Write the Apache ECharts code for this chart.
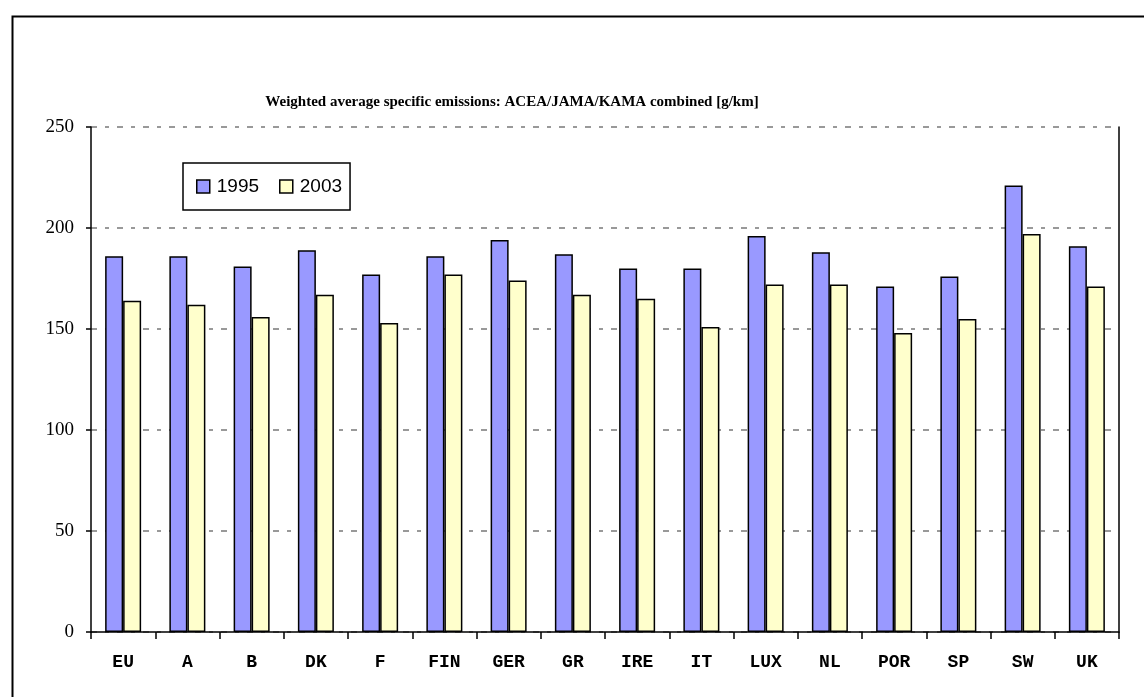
<!DOCTYPE html>
<html><head><meta charset="utf-8">
<script src="https://cdn.jsdelivr.net/npm/echarts@6/dist/echarts.min.js"></script>
<style>html,body{margin:0;padding:0;background:#fff}#c{width:1144px;height:697px}</style>
</head><body><div id="c"></div>
<script>
var categories = ['EU','A','B','DK','F','FIN','GER','GR','IRE','IT','LUX','NL','POR','SP','SW','UK'];
var values1995 = [186,186,181,189,177,186,194,187,180,180,196,188,171,176,221,191];
var values2003 = [164,162,156,167,153,177,174,167,165,151,172,172,148,155,197,171];
var yTicks = [0,50,100,150,200,250];

var chart = echarts.init(document.getElementById('c'));
chart.setOption({
  animation: false,
  backgroundColor: '#fff',
  title: {
    text: 'Weighted average specific emissions: ACEA/JAMA/KAMA combined [g/km]',
    left: 507, top: 90, textAlign: 'center',
    textStyle: {fontFamily: 'Liberation Serif', fontWeight: 'bold', fontSize: 15, color: '#000'}
  },
  legend: {
    left: 183, top: 163,
    padding: [14, 8, 14, 13],
    orient: 'horizontal',
    borderColor: '#000', borderWidth: 1.5,
    icon: 'rect',
    itemWidth: 13, itemHeight: 13, itemGap: 20,
    itemStyle: {borderColor: '#000', borderWidth: 1.5},
    textStyle: {fontFamily: 'Liberation Sans', fontSize: 19, color: '#000', padding: [0,0,0,2]},
    data: ['1995','2003']
  },
  grid: {left: 91, right: 25, top: 127, bottom: 65},
  xAxis: {
    type: 'category', data: categories,
    axisLine: {lineStyle: {color: '#000', width: 1.5}},
    axisTick: {show: true, length: 7, inside: false, lineStyle: {color: '#000', width: 1.5}},
    axisLabel: {fontFamily: 'Liberation Mono', fontWeight: 'bold', fontSize: 18, color: '#000', margin: 21}
  },
  yAxis: [{
    type: 'value', min: 0, max: 250, interval: 50,
    axisLine: {show: true, lineStyle: {color: '#000', width: 1.5}},
    axisTick: {show: true, length: 5, lineStyle: {color: '#000', width: 1.5}},
    axisLabel: {fontFamily: 'Liberation Serif', fontSize: 19, color: '#000', margin: 17,
      formatter: function(v){ return yTicks.indexOf(v) >= 0 ? String(v) : ''; }},
    splitLine: {show: true, lineStyle: {color: '#999', type: [6, 8, 4, 8], width: 2}}
  }, {
    type: 'value', min: 0, max: 250, interval: 50, position: 'right',
    axisLine: {show: true, lineStyle: {color: '#000', width: 1.5}},
    axisTick: {show: false}, axisLabel: {show: false}, splitLine: {show: false}
  }],
  series: [{
    name: '1995', type: 'bar', data: values1995, barWidth: 18, barGap: '0%',
    itemStyle: {color: '#9999FF', borderColor: '#000', borderWidth: 1.5}
  }, {
    name: '2003', type: 'bar', data: values2003, barWidth: 18, barGap: '0%',
    itemStyle: {color: '#FFFFCC', borderColor: '#000', borderWidth: 1.5}
  }],
  graphic: [{
    type: 'rect', left: 10, top: 14,
    shape: {width: 1200, height: 760},
    style: {fill: 'none', stroke: '#000', lineWidth: 2}
  }]
});
</script></body></html>
